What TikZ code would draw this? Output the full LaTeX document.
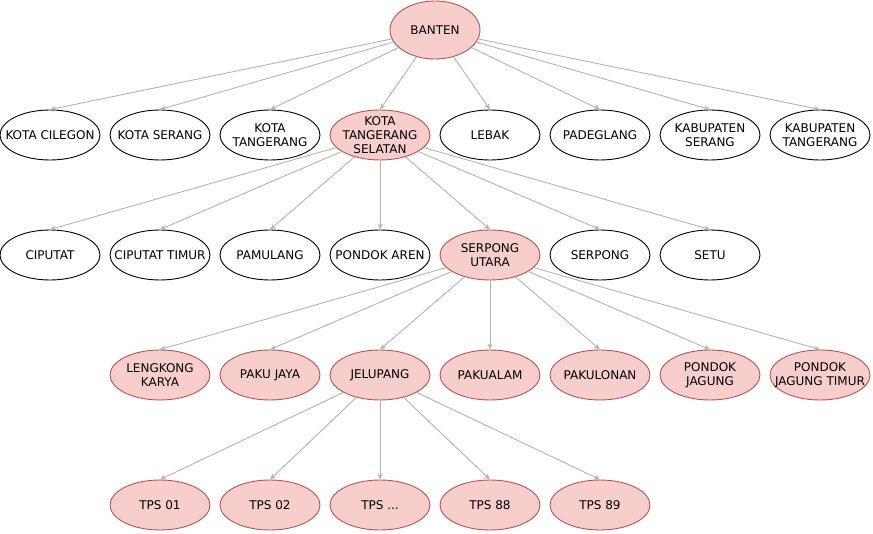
\documentclass[tikz,border=0pt]{standalone}
\usepackage{fontspec}
\setmainfont{DejaVu Sans}
\usetikzlibrary{shapes.geometric,arrows.meta}
\definecolor{pinkfill}{HTML}{F8CECC}
\definecolor{pinkline}{HTML}{B85450}
\definecolor{edgegray}{HTML}{B3B3B3}
\tikzset{
  base/.style={ellipse, minimum width=100pt, minimum height=50pt, inner sep=0pt,
    line width=0.9pt, label={[align=center, inner sep=0pt, font=\fontsize{12}{14}\selectfont]center:#1}},
  plain/.style={base=#1, draw=black, fill=white},
  hl/.style={base=#1, draw=pinkline, fill=pinkfill},
  link/.style={draw=edgegray, line width=0.9pt, -{Stealth[length=6pt,width=5pt]}}
}
\begin{document}
\begin{tikzpicture}[x=1pt,y=-1pt]
\useasboundingbox (0,0) rectangle (873,534);
% row 1
\node[hl={BANTEN}, minimum width=90pt, minimum height=58pt] (banten) at (435,30) {};
% row 2
\node[plain={KOTA CILEGON}] (cilegon) at (50,135) {};
\node[plain={KOTA SERANG}] (kserang) at (160,135) {};
\node[plain={KOTA\\TANGERANG}] (ktang) at (270,135) {};
\node[hl={KOTA\\TANGERANG\\SELATAN}] (tangsel) at (380,135) {};
\node[plain={LEBAK}] (lebak) at (490,135) {};
\node[plain={PADEGLANG}] (padeglang) at (600,135) {};
\node[plain={KABUPATEN\\SERANG}] (kabserang) at (710,135) {};
\node[plain={KABUPATEN\\TANGERANG}] (kabtang) at (820,135) {};
% row 3
\node[plain={CIPUTAT}] (ciputat) at (50,255) {};
\node[plain={CIPUTAT TIMUR}] (ciptimur) at (160,255) {};
\node[plain={PAMULANG}] (pamulang) at (270,255) {};
\node[plain={PONDOK AREN}] (pondokaren) at (380,255) {};
\node[hl={SERPONG\\UTARA}] (serput) at (490,255) {};
\node[plain={SERPONG}] (serpong) at (600,255) {};
\node[plain={SETU}] (setu) at (710,255) {};
% row 4
\node[hl={LENGKONG\\KARYA}] (lengkong) at (160,375) {};
\node[hl={PAKU JAYA}] (pakujaya) at (270,375) {};
\node[hl={JELUPANG}] (jelupang) at (380,375) {};
\node[hl={PAKUALAM}] (pakualam) at (490,375) {};
\node[hl={PAKULONAN}] (pakulonan) at (600,375) {};
\node[hl={PONDOK\\JAGUNG}] (pjagung) at (710,375) {};
\node[hl={PONDOK\\JAGUNG TIMUR}] (pjtimur) at (820,375) {};
% row 5
\node[hl={TPS 01}] (tps01) at (160,505) {};
\node[hl={TPS 02}] (tps02) at (270,505) {};
\node[hl={TPS ...}] (tpsdots) at (380,505) {};
\node[hl={TPS 88}] (tps88) at (490,505) {};
\node[hl={TPS 89}] (tps89) at (600,505) {};
% edges
\foreach \c in {cilegon,kserang,ktang,tangsel,lebak,padeglang,kabserang,kabtang}
  \draw[link] (banten) -- (\c.north);
\foreach \c in {ciputat,ciptimur,pamulang,pondokaren,serput,serpong,setu}
  \draw[link] (tangsel) -- (\c.north);
\foreach \c in {lengkong,pakujaya,jelupang,pakualam,pakulonan,pjagung,pjtimur}
  \draw[link] (serput) -- (\c.north);
\foreach \c in {tps01,tps02,tpsdots,tps88,tps89}
  \draw[link] (jelupang) -- (\c.north);
\end{tikzpicture}
\end{document}
